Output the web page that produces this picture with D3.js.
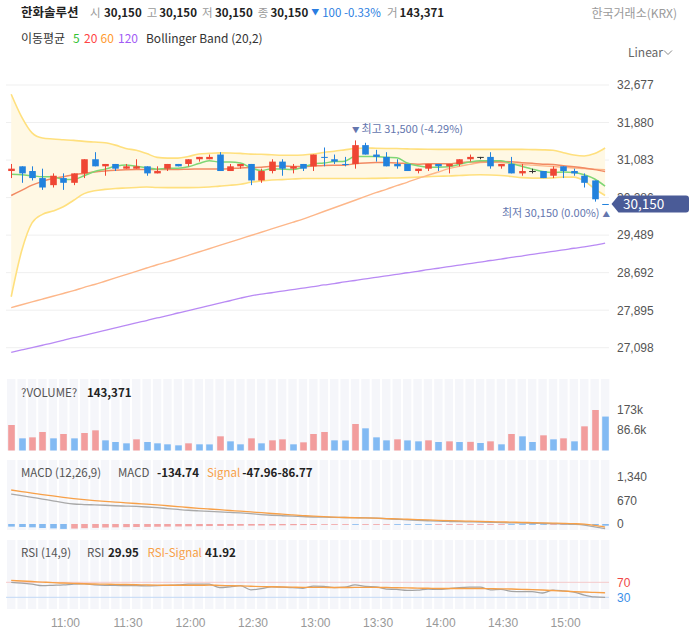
<!DOCTYPE html>
<html><head><meta charset="utf-8">
<script src="https://cdn.jsdelivr.net/npm/d3@7/dist/d3.min.js"></script>
<style>
body{margin:0;background:#fff;}
svg{display:block;font-family:'Noto Sans CJK KR','Noto Sans',sans-serif;}
</style></head><body>
<svg id="c" width="689" height="635"></svg>
<script>
// ---------- data ----------
const times = ["10:30","10:35","10:40","10:45","10:50","10:55",
 "11:00","11:05","11:10","11:15","11:20","11:25","11:30","11:35","11:40","11:45","11:50","11:55",
 "12:00","12:05","12:10","12:15","12:20","12:25","12:30","12:35","12:40","12:45","12:50","12:55",
 "13:00","13:05","13:10","13:15","13:20","13:25","13:30","13:35","13:40","13:45","13:50","13:55",
 "14:00","14:05","14:10","14:15","14:20","14:25","14:30","14:35","14:40","14:45","14:50","14:55",
 "15:00","15:05","15:10","15:15"];
const open  = [30850,30950,30850,30700,30550,30700,30600,30800,31100,30950,
 31000,30900,30900,30950,30800,30900,31000,31000,31100,31100,
 31200,30850,30950,31000,30650,30850,31050,30900,31000,30950,
 31150,31100,31000,31000,31400,31200,31150,31000,31000,30850,
 30900,31000,30950,31000,31100,31150,31150,30950,31000,30800,
 30850,30850,30750,30950,30850,30750,30650,30150];
const high  = [31000,30950,30950,30900,30800,30800,30800,31100,31250,31000,
 31000,31000,31100,30950,30950,31000,31000,31100,31150,31200,
 31250,31000,31000,31000,30900,31100,31100,31000,31000,31200,
 31350,31200,31150,31500,31450,31300,31250,31100,31000,30900,
 31000,31000,31000,31100,31200,31150,31250,31000,31150,31000,
 30900,30850,30950,30950,30900,30800,30650,30150];
const low   = [30700,30600,30650,30450,30500,30450,30550,30700,30950,30750,
 30850,30900,30900,30750,30800,30850,30950,30950,31050,31100,
 30850,30850,30900,30550,30600,30800,30750,30800,30850,30850,
 30950,31000,30950,30900,31200,31050,30950,30900,30850,30800,
 30850,30850,30800,30950,31050,31100,30900,30900,30800,30750,
 30800,30700,30700,30700,30750,30500,30200,30150];
const close = [30900,30800,30700,30500,30750,30600,30800,31100,30950,31000,
 30900,30950,30950,30800,30850,31000,30950,31100,31150,31150,
 30850,30950,31000,30650,30850,31050,30900,30950,30900,31200,
 31150,31050,31000,31400,31200,31150,30950,30950,30850,30900,
 31000,30950,31000,31100,31150,31150,30950,31000,30800,30850,
 30850,30700,30900,30850,30800,30600,30250,30150];
const volume = [107700,51400,55600,78200,51400,69700,51300,73900,85200,42900,
 35900,30300,47200,35900,30300,26100,21800,30300,26100,25800,
 59900,38700,26100,51400,30300,42900,47200,26100,34500,69700,
 78200,42900,42500,111900,93700,55600,42900,47200,42700,38700,
 42900,35900,38700,35800,36500,31700,38700,26100,69700,59900,
 35900,64100,47200,51400,38700,102100,171100,143371];
const ma5 = [30780,30770,30750,30730,30730,30670,30670,30750,30840,30890,
 30950,30980,30950,30920,30890,30910,30910,30940,31010,31070,
 31040,31040,31020,30920,30860,30900,30890,30880,30930,31000,
 31020,31050,31060,31160,31160,31160,31140,31130,31020,30960,
 30930,30930,30940,30990,31040,31070,31070,31070,31010,30950,
 30890,30840,30820,30830,30820,30770,30680,30530];
const ma20 = [30330,30440,30550,30630,30690,30730,30770,30800,30830,30850,
 30865,30875,30880,30880,30880,30885,30885,30890,30892,30895,
 30893,30900,30915,30923,30928,30950,30955,30948,30945,30955,
 30968,30973,30975,31005,31023,31030,31030,31023,31008,30995,
 31003,31003,31003,31025,31040,31045,31048,31050,31045,31028,
 31013,30995,30990,30963,30943,30915,30880,30840];
const ma60 = [27950,28010,28070,28130,28190,28250,28310,28380,28440,28510,
 28580,28650,28720,28790,28860,28920,28990,29060,29130,29200,
 29270,29340,29410,29480,29550,29620,29690,29760,29830,29910,
 29990,30070,30150,30230,30310,30390,30460,30540,30610,30690,
 30760,30830,30900,30950,30990,31030,31040,31030,31010,30990,
 30975,30960,30945,30930,30915,30905,30890,30880];
const ma120 = [27000,27050,27100,27150,27200,27255,27310,27360,27415,27465,
 27520,27570,27625,27675,27730,27780,27835,27885,27940,27990,
 28045,28095,28150,28200,28235,28265,28300,28330,28365,28395,
 28430,28460,28495,28525,28560,28590,28625,28655,28690,28720,
 28755,28785,28820,28850,28885,28915,28950,28980,29015,29045,
 29080,29110,29145,29175,29210,29240,29275,29320];
const bbUpper = [32480,32000,31660,31550,31530,31515,31500,31480,31465,31450,
 31400,31330,31290,31220,31140,31125,31125,31160,31210,31225,
 31235,31233,31225,31210,31205,31195,31185,31185,31190,31210,
 31245,31270,31300,31330,31340,31335,31330,31327,31320,31315,
 31312,31310,31310,31310,31310,31310,31310,31310,31310,31310,
 31305,31300,31290,31240,31190,31170,31220,31340];
const bbLower = [28180,29150,29750,29930,30000,30090,30230,30370,30430,30460,
 30480,30490,30500,30510,30500,30498,30498,30498,30500,30510,
 30530,30547,30570,30610,30640,30660,30668,30680,30690,30690,
 30690,30690,30690,30690,30690,30695,30700,30703,30710,30720,
 30730,30740,30745,30755,30765,30770,30765,30755,30735,30710,
 30700,30700,30705,30720,30720,30640,30470,30330];
const macd = [855,810,760,710,660,610,570,555,545,535,
 520,510,500,485,465,440,415,392,375,360,
 345,330,315,295,270,250,235,222,210,200,
 195,190,185,180,175,165,150,135,120,105,
 92,80,72,65,60,55,48,40,33,27,
 22,15,8,0,-10,-30,-80,-134.74];
const macdSignal = [969,925,880,840,800,760,725,695,668,645,
 625,605,585,565,545,520,495,470,447,427,
 407,385,365,345,322,300,280,260,240,222,
 208,196,186,178,172,165,156,145,135,125,
 115,105,95,87,80,73,66,60,53,47,
 40,33,26,19,10,-5,-40,-86.77];
const macdHist = [-75,-85,-95,-115,-125,-140,-130,-120,-110,-100,
 -95,-90,-86,-82,-78,-74,-70,-66,-62,-58,
 -55,-52,-49,-46,-43,-40,-37,-34,-31,-28,
 -4,-3,-2,-20,-4,-2,-1,-15,-17,-19,
 -21,-18,-15,-12,-8,-5,-3,-2,-10,-12,
 -14,-16,-10,-8,-12,-25,-40,-47.96];
const rsi = [70,68,65,61,62,63,65,66,63,62,
 62,61,61,60.5,61,62,63,65,65,65,
 56,58,61,50,53,58,57,56,54,60,
 59,56,57,63,59,58,52,51,48.5,49,
 52,51,53,56,57,57,50,51,46,45,
 45,41.5,49,47,44,36,31,29.95];
const rsiSignal = [75,73.5,72,70.5,69,68,67,66,65.5,65,
 64.5,64,63.5,63,62.5,62,62,62,62,62.5,
 61.5,61,60.5,59.5,58.5,58,57.5,57,56.5,56.5,
 56.5,56,56,56.5,56.5,56.5,56,55.5,55,54.5,
 54,53.5,53.5,53.5,53.5,53.5,53,52.5,52,51,
 50.5,49.5,48,46.5,45,44,43,41.92];
const priceTicks = [27098,27895,28692,29489,30286,31083,31880,32677];
const volumeTicks = [86600,173200];
const volumeTickLabels = ["86.6k","173k"];
const macdTicks = [0,670,1340];
const rsiTicks = [30,70];
const timeTicks = ["11:00","11:30","12:00","12:30","13:00","13:30","14:00","14:30","15:00"];

// ---------- setup ----------
const svg = d3.select('#c');
const n = times.length;
const idx = d3.range(n);
const fmt = d3.format(',');
const f2 = v => v.toFixed(2);
const UP = '#ef4634', DOWN = '#2282dd';
const toMin = s => { const p = s.split(':').map(Number); return p[0]*60 + p[1]; };
const centerOffset = 4.2;   // minutes: where a candle's centre sits within its 5-minute slot
const x = d3.scaleLinear()
  .domain([toMin(times[0]) + centerOffset, toMin(times[n-1]) + centerOffset])
  .range([11.2, 605.1]);
const cx = i => x(toMin(times[i]) + centerOffset);
const plotL = 6, plotR = 609;
const bodyW = 6.6, stripeW = 8.4;

const yP = d3.scaleLinear().domain([27098, 32677]).range([347.7, 85]);
const yV = d3.scaleLinear().domain([0, 173200]).range([450.5, 409.5]);
const yM = d3.scaleLinear().domain([0, 1340]).range([524, 477]);
const yR = d3.scaleLinear().domain([30, 70]).range([597.3, 582.3]);

const defs = svg.append('defs');
defs.append('clipPath').attr('id','clipMain').append('rect')
  .attr('x', plotL).attr('y', 60).attr('width', plotR - plotL).attr('height', 310);

// ---------- text helpers ----------
function txt(g, xx, yy, s, o = {}) {
  return g.append('text').attr('x', xx).attr('y', yy).attr('dy', '0.35em')
    .attr('font-size', o.size || 12).attr('font-weight', o.bold ? 'bold' : 'normal')
    .attr('fill', o.fill || '#222').attr('text-anchor', o.anchor || 'start').text(s);
}
// place pieces at their reference x, pushed right only if the previous piece would touch
function flow(g, yy, items, size) {
  let end = -1e9;
  items.forEach(it => {
    const xx = Math.max(it.x, end + (it.gap != null ? it.gap : 3));
    const t = txt(g, xx, yy + (it.dyy || 0), it.t, Object.assign({size: size}, it));
    end = xx + t.node().getComputedTextLength();
  });
}

// ---------- header ----------
const hdr = svg.append('g');
const last = n - 1;
const chg = close[last] - close[last-1];
const pct = chg / close[last-1] * 100;
const G = '#9a9a9a', B = '#2a7de1';
flow(hdr, 12.5, [
  {x: 21, t: '한화솔루션', bold: true, size: 12.5},
  {x: 90, t: '시', fill: G, gap: 8},
  {x: 104, t: fmt(open[last]), bold: true, gap: 2},
  {x: 146, t: '고', fill: G, gap: 5},
  {x: 159, t: fmt(high[last]), bold: true, gap: 2},
  {x: 201, t: '저', fill: G, gap: 5},
  {x: 215, t: fmt(low[last]), bold: true, gap: 2},
  {x: 257, t: '종', fill: G, gap: 5},
  {x: 270.5, t: fmt(close[last]), bold: true, gap: 2},
  {x: 310, t: chg < 0 ? '▼' : '▲', fill: B, size: 8, gap: 3},
  {x: 321, t: fmt(Math.abs(chg)) + ' ' + pct.toFixed(2) + '%', fill: B, gap: 3},
  {x: 387, t: '거', fill: G, gap: 5},
  {x: 399, t: fmt(volume[last]), bold: true, gap: 2}
], 11.5);
txt(hdr, 677, 13.5, '한국거래소(KRX)', {fill: G, anchor: 'end', size: 12});

flow(hdr, 39, [
  {x: 21, t: '이동평균', fill: '#333'},
  {x: 73, t: '5', fill: '#33c233'},
  {x: 84, t: '20', fill: '#ff4444'},
  {x: 100.5, t: '60', fill: '#ff9a2e'},
  {x: 118, t: '120', fill: '#a25cf5'},
  {x: 145.5, t: 'Bollinger Band (20,2)', fill: '#333', gap: 8}
], 12);
txt(hdr, 628, 52.5, 'Linear', {fill: '#666', size: 12});
hdr.append('path').attr('d', 'M664,50.5 L668,54.5 L672,50.5')
  .attr('fill', 'none').attr('stroke', '#888').attr('stroke-width', 1);

// ---------- main price chart ----------
const main = svg.append('g');
main.selectAll('.grid').data(priceTicks).join('line')
  .attr('x1', plotL).attr('x2', plotR)
  .attr('y1', d => yP(d)).attr('y2', d => yP(d))
  .attr('stroke', '#efefef').attr('stroke-width', 1);

const mc = main.append('g').attr('clip-path', 'url(#clipMain)');
mc.append('path').datum(idx)
  .attr('d', d3.area().x(i => cx(i)).y0(i => yP(bbLower[i])).y1(i => yP(bbUpper[i])).curve(d3.curveMonotoneX))
  .attr('fill', '#fff8e4');
const line = arr => d3.line().x(i => cx(i)).y(i => yP(arr[i])).curve(d3.curveMonotoneX);
[[bbUpper, '#ffe07e', 1.6], [bbLower, '#ffe07e', 1.6],
 [ma120, '#b98af4', 1.3], [ma60, '#fdb78a', 1.4], [ma20, '#f28a63', 1.5], [ma5, '#7fd675', 1.5]]
 .forEach(([arr, col, w]) => {
   mc.append('path').datum(idx).attr('d', line(arr))
     .attr('fill', 'none').attr('stroke', col).attr('stroke-width', w);
 });

function candleColor(i) {
  if (close[i] > open[i]) return UP;
  if (close[i] < open[i]) return DOWN;
  if (i > 0 && close[i] > close[i-1]) return UP;
  if (i > 0 && close[i] < close[i-1]) return DOWN;
  return '#333';
}
const cg = mc.append('g');
cg.selectAll('.wick').data(idx).join('line')
  .attr('x1', i => Math.round(cx(i)) + 0.5).attr('x2', i => Math.round(cx(i)) + 0.5)
  .attr('y1', i => yP(high[i])).attr('y2', i => yP(low[i]))
  .attr('stroke', candleColor).attr('stroke-width', 1);
cg.selectAll('.body').data(idx).join('rect')
  .attr('x', i => Math.round(cx(i)) + 0.5 - bodyW / 2)
  .attr('y', i => Math.min(yP(open[i]), yP(close[i])))
  .attr('width', bodyW)
  .attr('height', i => Math.max(1, Math.abs(yP(open[i]) - yP(close[i]))))
  .attr('fill', candleColor);

// high / low annotations
const hiIdx = d3.maxIndex(high), loIdx = d3.minIndex(low);
const hiPct = (close[last] - high[hiIdx]) / high[hiIdx] * 100;
const loPct = (close[last] - low[loIdx]) / low[loIdx] * 100;
const AN = '#6476ae';
const hiT = main.append('text').attr('x', cx(hiIdx) - 3).attr('y', yP(high[hiIdx]) - 7).attr('dy', '0.35em')
  .attr('fill', AN).attr('font-size', 11);
hiT.append('tspan').attr('font-size', 7.5).attr('dy', '-0.05em').text('▼');
hiT.append('tspan').attr('dx', 2).text('최고 ' + fmt(high[hiIdx]) + ' (' + hiPct.toFixed(2) + '%)');
const loT = main.append('text').attr('x', cx(loIdx) + 5).attr('y', yP(low[loIdx]) + 9.5).attr('dy', '0.35em')
  .attr('fill', AN).attr('font-size', 11).attr('text-anchor', 'end');
loT.append('tspan').text('최저 ' + fmt(low[loIdx]) + ' (' + loPct.toFixed(2) + '%)');
loT.append('tspan').attr('font-size', 7.5).attr('dx', 3).text('▲');

// price axis
const pa = svg.append('g').attr('transform', 'translate(617,0)')
  .call(d3.axisRight(yP).tickValues(priceTicks).tickFormat(fmt).tickSize(0).tickPadding(0));
pa.select('.domain').remove();
pa.selectAll('text').attr('font-size', 12).attr('fill', '#555').attr('font-family', null);

// current price tag
const yc = yP(close[last]);
svg.append('path')
  .attr('d', `M611.5,${yc} L618.5,${yc-8.5} H686 Q689,${yc-8.5} 689,${yc-5.5} V${yc+5.5} Q689,${yc+8.5} 686,${yc+8.5} H618.5 Z`)
  .attr('fill', '#4a5b97');
txt(svg, 623, yc, fmt(close[last]), {fill: '#fff', size: 13.5});

// ---------- sub panels ----------
const sub = svg.append('g');
function stripes(y0, y1) {
  sub.append('g').selectAll('rect').data(idx).join('rect')
    .attr('x', i => cx(i) - stripeW / 2).attr('y', y0)
    .attr('width', stripeW).attr('height', y1 - y0).attr('fill', '#f5f6fa');
}
stripes(379, 450.5);
stripes(460, 530);
stripes(540, 609);

// volume
sub.append('g').selectAll('rect').data(idx).join('rect')
  .attr('x', i => Math.round(cx(i)) + 0.5 - bodyW / 2).attr('width', bodyW)
  .attr('y', i => yV(volume[i])).attr('height', i => yV(0) - yV(volume[i]))
  .attr('fill', i => (i === 0 || volume[i] >= volume[i-1]) ? '#f29d9d' : '#82baf3');
const va = svg.append('g').attr('transform', 'translate(617,0)')
  .call(d3.axisRight(yV).tickValues(volumeTicks).tickFormat((d, i) => volumeTickLabels[i]).tickSize(0).tickPadding(0));
va.select('.domain').remove();
va.selectAll('text').attr('font-size', 12).attr('fill', '#555').attr('font-family', null);
flow(svg, 392.7, [
  {x: 21, t: '?VOLUME?', fill: '#555'},
  {x: 87, t: fmt(volume[last]), bold: true, gap: 4}
], 11.5);

// MACD
sub.append('g').selectAll('rect').data(idx).join('rect')
  .attr('x', i => Math.round(cx(i)) + 0.5 - bodyW / 2).attr('width', bodyW)
  .attr('y', i => Math.min(yM(0), yM(macdHist[i])))
  .attr('height', i => Math.max(0.8, Math.abs(yM(macdHist[i]) - yM(0))))
  .attr('fill', i => (i === 0 || macdHist[i] < macdHist[i-1]) ? '#84b9f0' : '#f2a3a3');
const lineM = arr => d3.line().x(i => cx(i)).y(i => yM(arr[i])).curve(d3.curveMonotoneX);
sub.append('path').datum(idx).attr('d', lineM(macd)).attr('fill', 'none').attr('stroke', '#a9a9a9').attr('stroke-width', 1.3);
sub.append('path').datum(idx).attr('d', lineM(macdSignal)).attr('fill', 'none').attr('stroke', '#f7a048').attr('stroke-width', 1.3);
const ma = svg.append('g').attr('transform', 'translate(617,0)')
  .call(d3.axisRight(yM).tickValues(macdTicks).tickFormat(fmt).tickSize(0).tickPadding(0));
ma.select('.domain').remove();
ma.selectAll('text').attr('font-size', 12).attr('fill', '#555').attr('font-family', null);
flow(svg, 472.7, [
  {x: 21, t: 'MACD (12,26,9)', fill: '#555'},
  {x: 118, t: 'MACD', fill: '#555', gap: 8},
  {x: 157, t: f2(macd[last]), bold: true, gap: 3},
  {x: 207, t: 'Signal', fill: '#f7a048', gap: 7},
  {x: 240, t: f2(macdHist[last]) + f2(macdSignal[last]), bold: true, gap: 2}
], 11.5);

// RSI
sub.selectAll('.rl').data(rsiTicks).join('line')
  .attr('x1', plotL).attr('x2', plotR).attr('y1', d => yR(d)).attr('y2', d => yR(d))
  .attr('stroke', d => d === 70 ? '#f6caca' : '#c2d9f5').attr('stroke-width', 1);
const lineR = arr => d3.line().x(i => cx(i)).y(i => yR(arr[i])).curve(d3.curveMonotoneX);
sub.append('path').datum(idx).attr('d', lineR(rsi)).attr('fill', 'none').attr('stroke', '#a3a3a3').attr('stroke-width', 1.3);
sub.append('path').datum(idx).attr('d', lineR(rsiSignal)).attr('fill', 'none').attr('stroke', '#f7a048').attr('stroke-width', 1.4);
const ra = svg.append('g').attr('transform', 'translate(617,0)')
  .call(d3.axisRight(yR).tickValues(rsiTicks).tickSize(0).tickPadding(0));
ra.select('.domain').remove();
ra.selectAll('text').attr('font-size', 12).attr('font-family', null)
  .attr('fill', d => d === 70 ? '#f04848' : '#3b8fe8');
flow(svg, 553.3, [
  {x: 21, t: 'RSI (14,9)', fill: '#555'},
  {x: 87, t: 'RSI', fill: '#555', gap: 8},
  {x: 108, t: f2(rsi[last]), bold: true, gap: 3},
  {x: 147.5, t: 'RSI-Signal', fill: '#f7a048', gap: 7},
  {x: 205, t: f2(rsiSignal[last]), bold: true, gap: 3}
], 11.5);

// time axis
const ta = svg.append('g').attr('transform', 'translate(0,615)')
  .call(d3.axisBottom(x).tickValues(timeTicks.map(toMin)).tickFormat((d, i) => timeTicks[i]).tickSize(0).tickPadding(3));
ta.select('.domain').remove();
ta.selectAll('text').attr('font-size', 12).attr('fill', '#999').attr('font-family', null);
</script>
</body></html>
